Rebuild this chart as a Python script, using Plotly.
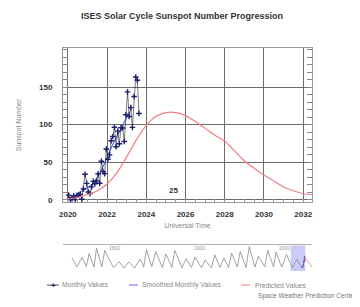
import plotly.graph_objects as go

# ---------------- data ----------------
monthly_x = [2020 + (m - 0.5) / 12 for m in range(1, 13)] + \
            [2021 + (m - 0.5) / 12 for m in range(1, 13)] + \
            [2022 + (m - 0.5) / 12 for m in range(1, 13)] + \
            [2023 + (m - 0.5) / 12 for m in range(1, 9)]
monthly_y = [6.2, 0.2, 1.5, 5.2, 0.2, 5.8, 6.1, 7.5, 0.6, 14.4, 34.0, 21.8,
             10.4, 8.2, 17.2, 24.5, 21.2, 25.0, 34.6, 22.0, 51.3, 37.4, 34.8, 67.5,
             54.0, 59.7, 78.5, 84.1, 96.5, 70.5, 91.4, 74.6, 96.0, 95.5, 77.6, 113.1,
             143.6, 110.9, 122.6, 96.4, 137.4, 163.4, 159.1, 114.8]

smoothed_x = monthly_x[:38]
smoothed_y = [1.9, 2.1, 2.6, 3.4, 4.8, 6.5, 8.8, 10.3, 11.4, 12.9, 14.5, 15.8,
              17.1, 18.0, 19.4, 21.9, 24.7, 27.7, 31.3, 35.4, 39.3, 43.6, 48.6, 54.2,
              59.9, 64.6, 69.2, 73.8, 78.6, 82.9, 86.4, 89.9, 94.1, 98.6, 103.1, 108.0,
              113.0, 116.9]

pred_x = [2020.0, 2020.5, 2021.0, 2021.5, 2022.0, 2022.5, 2023.0, 2023.5, 2024.0,
          2024.5, 2025.0, 2025.5, 2026.0, 2026.5, 2027.0, 2027.5, 2028.0, 2028.5,
          2029.0, 2029.5, 2030.0, 2030.5, 2031.0, 2031.5, 2032.0, 2032.45]
pred_y = [1, 3, 7, 12, 21, 36, 57, 80, 99, 111, 116, 116, 112, 104, 95, 86, 78,
          65, 52, 42, 33, 25, 17, 12, 8, 7]

x_ticks = [2020, 2022, 2024, 2026, 2028, 2030, 2032]
y_ticks = [0, 50, 100, 150]

# long-term record for the overview strip (cycle minima / maxima)
hist_x = [1749.5, 1755.2, 1761.5, 1766.5, 1769.7, 1775.5, 1778.4, 1784.7, 1788.1,
          1798.3, 1805.2, 1810.6, 1816.4, 1823.3, 1829.9, 1833.9, 1837.2, 1843.5,
          1848.1, 1855.9, 1860.1, 1867.2, 1870.6, 1878.9, 1883.9, 1890.2, 1894.1,
          1902.0, 1906.2, 1913.6, 1917.6, 1923.6, 1928.4, 1933.8, 1937.4, 1944.2,
          1947.5, 1954.3, 1958.2, 1964.9, 1968.9, 1976.5, 1979.9, 1986.8, 1989.6,
          1996.4, 2001.9, 2008.9, 2014.3, 2019.9]
hist_y = [135, 14, 144, 19, 193, 12, 264, 16, 235, 5, 82, 0, 81, 0, 119, 12, 245,
          18, 220, 6, 186, 10, 234, 4, 124, 8, 147, 5, 107, 3, 176, 9, 130, 6, 199,
          13, 219, 5, 285, 14, 157, 18, 233, 14, 213, 11, 180, 2, 116, 2]
overview_labels = [1800, 1900, 2000]
highlight_span = [2007.0, 2024.0]

legend_names = ["Monthly Values", "Smoothed Monthly Values", "Predicted Values"]

NAVY = "#1b1f6e"
BLUE = "#5a6cf0"
RED = "#ef7f82"

# the page body adds an 8px margin, so the figure is laid out 8px up/left
OFF = 8
W, H = 360 - OFF, 307 - OFF


def px_x(p):
    return (p - OFF) / W


def px_y(p):
    return (H - (p - OFF)) / H


# ---------------- figure ----------------
fig = go.Figure()

fig.add_trace(go.Scatter(
    x=pred_x, y=pred_y, mode="lines", name=legend_names[2],
    line=dict(color=RED, width=1.2, shape="spline"),
    xaxis="x", yaxis="y3"))
fig.add_trace(go.Scatter(
    x=smoothed_x, y=smoothed_y, mode="lines", name=legend_names[1],
    line=dict(color=BLUE, width=1.2),
    xaxis="x", yaxis="y"))
fig.add_trace(go.Scatter(
    x=monthly_x, y=monthly_y, mode="lines+markers", name=legend_names[0],
    line=dict(color="#222222", width=0.6),
    marker=dict(symbol="cross-thin", size=4, color=NAVY,
                line=dict(color=NAVY, width=1.4)),
    xaxis="x", yaxis="y"))

# overview strip
fig.add_trace(go.Scatter(
    x=hist_x, y=hist_y, mode="lines", showlegend=False,
    line=dict(color="#8a8a8a", width=0.8), xaxis="x2", yaxis="y2"))
fig.add_trace(go.Scatter(
    x=monthly_x, y=monthly_y, mode="lines", showlegend=False,
    line=dict(color="#7a55a8", width=0.8), xaxis="x2", yaxis="y2"))
fig.add_trace(go.Scatter(
    x=pred_x[7:], y=pred_y[7:], mode="lines", showlegend=False,
    line=dict(color=RED, width=0.8), xaxis="x2", yaxis="y2"))

fig.add_shape(type="rect", xref="x2", yref="y2",
              x0=highlight_span[0], x1=highlight_span[1], y0=-40, y1=300,
              fillcolor="rgba(140,140,240,0.45)", line=dict(width=0), layer="below")

for yr in overview_labels:
    fig.add_annotation(x=yr, y=265, xref="x2", yref="y2", text=str(yr),
                       showarrow=False, font=dict(size=5, color="#999999"))

fig.add_annotation(x=2025.4, y=12, xref="x", yref="y", text="<b>25</b>",
                   showarrow=False, font=dict(size=8, color="#333333"))

# ---- hand-made legend row ----
ly = px_y(285)
fig.add_shape(type="line", xref="paper", yref="paper",
              x0=px_x(47), x1=px_x(59), y0=ly, y1=ly,
              line=dict(color="#222222", width=0.8))
fig.add_annotation(x=px_x(53), y=ly, xref="paper", yref="paper", text="<b>+</b>",
                   showarrow=False, font=dict(size=8, color=NAVY),
                   xanchor="center", yanchor="middle")
fig.add_annotation(x=px_x(62), y=ly, xref="paper", yref="paper", text=legend_names[0],
                   showarrow=False, font=dict(size=6.8, color="#888888"),
                   xanchor="left", yanchor="middle", xshift=-2)
fig.add_shape(type="line", xref="paper", yref="paper",
              x0=px_x(129), x1=px_x(138), y0=ly, y1=ly,
              line=dict(color=BLUE, width=1))
fig.add_annotation(x=px_x(142), y=ly, xref="paper", yref="paper", text=legend_names[1],
                   showarrow=False, font=dict(size=6.8, color="#888888"),
                   xanchor="left", yanchor="middle", xshift=-2)
fig.add_shape(type="line", xref="paper", yref="paper",
              x0=px_x(241), x1=px_x(250), y0=ly, y1=ly,
              line=dict(color=RED, width=1))
fig.add_annotation(x=px_x(255), y=ly, xref="paper", yref="paper", text=legend_names[2],
                   showarrow=False, font=dict(size=6.8, color="#888888"),
                   xanchor="left", yanchor="middle", xshift=-2)

fig.add_annotation(x=px_x(359), y=px_y(296), xref="paper", yref="paper",
                   xanchor="right", yanchor="middle",
                   text="Space Weather Prediction Center", showarrow=False,
                   font=dict(size=6.6, color="#777777"))

fig.update_layout(
    width=W, height=H,
    margin=dict(l=0, r=0, t=0, b=0, autoexpand=False),
    paper_bgcolor="white", plot_bgcolor="white",
    font=dict(family="Liberation Sans, Arial, sans-serif"),
    showlegend=False,
    title=dict(text="<b>ISES Solar Cycle Sunspot Number Progression</b>",
               x=px_x(182), xanchor="center", y=px_y(16), yanchor="middle",
               font=dict(size=9, color="#333333")),
    xaxis=dict(domain=[px_x(63), px_x(312)], range=[2019.75, 2032.45],
               tickvals=x_ticks, ticktext=[str(v) for v in x_ticks],
               tickfont=dict(size=8, color="#333333", weight="bold"),
               showgrid=True, gridcolor="#6a6a6a", gridwidth=1,
               showline=True, linecolor="#9a9a9a", linewidth=1, mirror=True,
               ticks="", zeroline=False, ticklabelstandoff=4,
               minor=dict(ticks="inside", dtick=0.5, ticklen=3,
                          tickcolor="#999999"),
               title=dict(text="Universal Time", standoff=5,
                          font=dict(size=7, color="#888888"))),
    yaxis=dict(domain=[px_y(202), px_y(48)], range=[-3, 202],
               tickvals=y_ticks, ticktext=[str(v) for v in y_ticks],
               tickfont=dict(size=8, color="#333333", weight="bold"),
               showgrid=True, gridcolor="#6a6a6a", gridwidth=1,
               showline=True, linecolor="#9a9a9a", linewidth=1,
               ticks="inside", ticklen=5, tickcolor="#888888", zeroline=False,
               ticklabelstandoff=8,
               minor=dict(ticks="inside", dtick=10, ticklen=5,
                          tickcolor="#888888"),
               title=dict(text="Sunspot Number", standoff=16,
                          font=dict(size=7, color="#888888"))),
    yaxis3=dict(overlaying="y", side="right", anchor="x", range=[-3, 202],
                showticklabels=False, showgrid=False, zeroline=False,
                showline=True, linecolor="#9a9a9a", linewidth=1,
                tickvals=y_ticks, ticks="inside", ticklen=5, tickcolor="#888888",
                minor=dict(ticks="inside", dtick=10, ticklen=5,
                           tickcolor="#888888")),
    xaxis2=dict(domain=[px_x(63), px_x(312)], range=[1739, 2032],
                anchor="y2", side="top", showline=True, linecolor="#b0b0b0",
                linewidth=1, showticklabels=False, showgrid=False,
                zeroline=False, ticks=""),
    yaxis2=dict(domain=[px_y(272), px_y(245)], range=[-53, 307], anchor="x2",
                showticklabels=False, showgrid=False, zeroline=False,
                showline=False, ticks=""),
)

fig.write_html("out.html")
